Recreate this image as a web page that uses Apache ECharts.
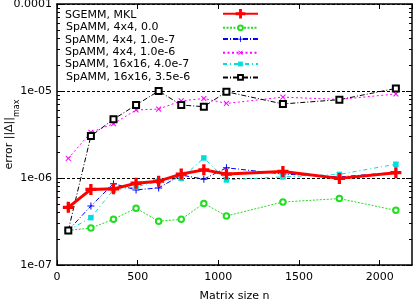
<!DOCTYPE html>
<html><head><meta charset="utf-8">
<script src="https://cdn.jsdelivr.net/npm/echarts@6/dist/echarts.min.js"></script>
<style>html,body{margin:0;padding:0;background:#fff}#c{width:415px;height:302px}</style>
</head><body><div id="c"></div>
<script>
const matrixSize = [70, 210, 350, 490, 630, 770, 910, 1050, 1400, 1750, 2100];
const sgemmMKL   = [4.6e-7, 7.4e-7, 7.5e-7, 8.7e-7, 9.2e-7, 1.11e-6, 1.24e-6, 1.11e-6, 1.19e-6, 9.9e-7, 1.15e-6];
const spamm4_0   = [2.5e-7, 2.66e-7, 3.35e-7, 4.5e-7, 3.18e-7, 3.35e-7, 5.1e-7, 3.66e-7, 5.3e-7, 5.8e-7, 4.25e-7];
const spamm4_1e7 = [2.5e-7, 4.77e-7, 8.6e-7, 7.3e-7, 7.7e-7, 1.08e-6, 9.7e-7, 1.31e-6, 1.11e-6, 1.03e-6, 1.16e-6];
const spamm4_1e6 = [1.68e-6, 3.35e-6, 4.2e-6, 6.05e-6, 6.2e-6, 7.7e-6, 8.2e-6, 7.2e-6, 8.5e-6, 8.0e-6, 9.25e-6];
const spamm16_4e7 = [2.5e-7, 3.5e-7, 7.3e-7, 7.9e-7, 9.2e-7, 9.9e-7, 1.7e-6, 9.5e-7, 1.03e-6, 1.1e-6, 1.44e-6];
const spamm16_35e6 = [2.5e-7, 3.04e-6, 4.73e-6, 6.9e-6, 1.0e-5, 6.9e-6, 6.6e-6, 9.8e-6, 7.1e-6, 7.95e-6, 1.07e-5];
const seriesNames = ['SGEMM, MKL', 'SpAMM, 4x4, 0.0', 'SpAMM, 4x4, 1.0e-7', 'SpAMM, 4x4, 1.0e-6', 'SpAMM, 16x16, 4.0e-7', 'SpAMM, 16x16, 3.5e-6'];
const yTickLabels = ['1e-07', '1e-06', '1e-05', '0.0001'];
const xTickLabels = ['0', '500', '1000', '1500', '2000'];

const FONT = 'DejaVu Sans';
// minor tick positions (log10 space) at 2..9 x 10^e
const minorYLog = [];
for (let e = -7; e < -4; e++) for (let k = 2; k <= 9; k++) minorYLog.push(Math.log10(k * Math.pow(10, e)));

const PLUS_THICK = 'path://M3.5,0h3v3.5h3.5v3h-3.5v3.5h-3v-3.5h-3.5v-3h3.5z';
const PLUS_THIN = 'path://M3,0h1v3h3v1h-3v3h-1v-3h-3v-1h3z';

function pairs(ys) { return matrixSize.map((x, i) => [x, ys[i]]); }

const styles = [
  {data: sgemmMKL, color: '#ff0000', width: 3, type: 'solid', symbol: PLUS_THICK, size: 11, rot: 0, z: 10, legH: 12},
  {data: spamm4_0, color: '#22dd22', width: 1, type: [2, 1.5], symbol: 'emptyCircle', size: 5.5, rot: 0, z: 3, legH: 6},
  {data: spamm4_1e7, color: '#0000ff', width: 1, type: [5, 2, 1, 2], symbol: PLUS_THIN, size: 7, rot: 0, z: 4, legH: 7},
  {data: spamm4_1e6, color: '#ff00ff', width: 1, type: [2, 2.5], symbol: PLUS_THIN, size: 7, rot: 45, z: 5, legH: 7},
  {data: spamm16_4e7, color: '#00dddd', width: 1, type: [4, 3, 1, 3], symbol: 'rect', size: 5.5, rot: 0, z: 6, legH: 6},
  {data: spamm16_35e6, color: '#000000', width: 1, type: [5, 2, 1, 2], symbol: 'emptyRect', size: 6, rot: 0, z: 7, legH: 6}
];

const series = styles.map((s, i) => ({
  name: seriesNames[i], type: 'line', xAxisIndex: 0, yAxisIndex: 0,
  data: pairs(s.data), symbol: s.symbol, symbolSize: s.size, symbolRotate: s.rot,
  showAllSymbol: true, animation: false, z: s.z,
  lineStyle: {color: s.color, width: s.width, type: s.type},
  itemStyle: {color: s.color, borderColor: s.color, borderWidth: s.symbol.startsWith('empty') ? 1 : 0},
  emphasis: {disabled: true}
}));

const yLabel = v => yTickLabels[Math.round(Math.log10(v)) + 7];
const frame = {show: true, lineStyle: {color: '#000', width: 1.5}};
const tickStyle = {color: '#000', width: 1};
const yBase = {type: 'log', logBase: 10, min: 1e-7, max: 1e-4, gridIndex: 0};
const yMinorBase = {type: 'value', min: -7, max: -4, gridIndex: 0,
  axisLine: {show: false},
  axisTick: {show: true, inside: true, length: 3, customValues: minorYLog, lineStyle: tickStyle},
  axisLabel: {show: false}, splitLine: {show: false}};

const ROW0 = 15, ROWSTEP = 12.4;
const legends = [];
seriesNames.forEach((nm, i) => {
  const cy = ROW0 + i * ROWSTEP;
  legends.push({orient: 'vertical', left: 60, top: cy - 6, selectedMode: false, data: [nm],
    itemWidth: 0, itemHeight: 0, icon: 'rect', padding: 0,
    itemStyle: {opacity: 0}, lineStyle: {opacity: 0},
    textStyle: {color: '#000', fontSize: 11, fontFamily: FONT, lineHeight: 12}});
  const h = styles[i].legH;
  legends.push({orient: 'vertical', left: 222, top: cy - h / 2, selectedMode: false, data: [nm],
    itemWidth: 35, itemHeight: h, padding: 0, formatter: () => '',
    textStyle: {fontSize: 1, lineHeight: 1}});
});

const option = {
  backgroundColor: '#fff',
  animation: false,
  grid: {left: 57, right: 3, top: 4, bottom: 37, containLabel: false, outerBoundsMode: 'none'},
  xAxis: [
    {type: 'value', min: 0, max: 2200, interval: 500, position: 'bottom',
     axisLine: frame, axisTick: {show: true, inside: true, length: 5, lineStyle: tickStyle},
     axisLabel: {color: '#000', fontSize: 11, fontFamily: FONT, margin: 7, showMaxLabel: false,
       formatter: v => (v % 500 === 0 ? xTickLabels[v / 500] : '')},
     splitLine: {show: false},
     name: 'Matrix size n', nameLocation: 'middle', nameGap: 26, nameMoveOverlap: false,
     nameTextStyle: {color: '#000', fontSize: 11, fontFamily: FONT}},
    {type: 'value', min: 0, max: 2200, interval: 500, position: 'top',
     axisLine: frame, axisTick: {show: true, inside: true, length: 5, lineStyle: tickStyle},
     axisLabel: {show: false}, splitLine: {show: false}}
  ],
  yAxis: [
    Object.assign({}, yBase, {position: 'left',
     axisLine: frame, axisTick: {show: true, inside: true, length: 6, lineStyle: tickStyle},
     axisLabel: {color: '#000', fontSize: 11, fontFamily: FONT, margin: 5, formatter: yLabel},
     splitLine: {show: true, lineStyle: {color: '#000', width: 1, type: [3, 2]}},
     name: '{a|error ||Δ||}{b|max}', nameLocation: 'middle', nameGap: 36, nameMoveOverlap: false,
     nameTextStyle: {color: '#000', fontFamily: FONT,
       rich: {a: {fontSize: 11, fontFamily: FONT, color: '#000', verticalAlign: 'top', lineHeight: 17},
              b: {fontSize: 8, fontFamily: FONT, color: '#000', verticalAlign: 'bottom', lineHeight: 17}}}}),
    Object.assign({}, yMinorBase, {position: 'left'}),
    Object.assign({}, yBase, {position: 'right',
     axisLine: frame, axisTick: {show: true, inside: true, length: 6, lineStyle: tickStyle},
     axisLabel: {show: false}, splitLine: {show: false}}),
    Object.assign({}, yMinorBase, {position: 'right'})
  ],
  legend: legends,
  series: series
};

const chart = echarts.init(document.getElementById('c'), null, {renderer: 'canvas'});
chart.setOption(option);
</script></body></html>
